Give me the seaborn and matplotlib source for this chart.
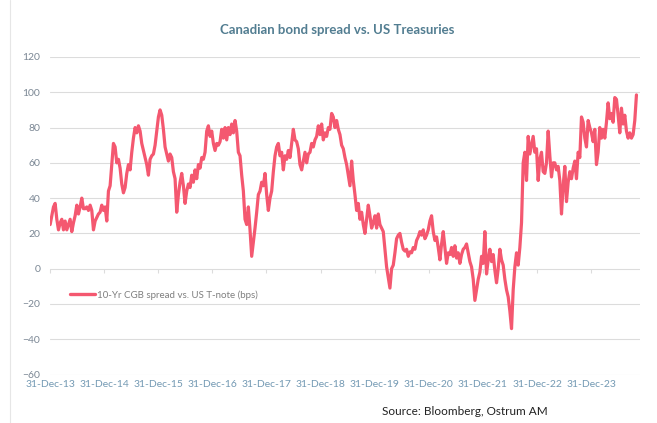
import matplotlib
matplotlib.use("Agg")
import matplotlib.pyplot as plt
import matplotlib.dates as mdates
from matplotlib.lines import Line2D
import numpy as np
import pandas as pd
import seaborn as sns

# ---- data -----------------------------------------------------------------
title = "Canadian bond spread vs. US Treasuries"
series_label = "10-Yr CGB spread vs. US T-note (bps)"
source_note = "Source: Bloomberg, Ostrum AM"

first_obs = "2014-01-01"
last_obs = "2024-11-01"

# 10-year Canada minus US yield spread (bps), sampled roughly every 11 days
spread_2014_2016 = [
    25, 30, 35, 37, 28, 22, 26, 28, 22, 27, 22, 25, 28, 21, 26, 30, 36, 31, 35, 40,
    34, 34, 35, 33, 36, 33, 22, 27, 29, 31, 32, 36, 33, 35, 27, 44, 47, 59, 71, 69,
    60, 62, 57, 48, 43, 46, 54, 59, 56, 66, 74, 80, 77, 81, 78, 71, 67, 63, 59, 53,
    62, 64, 65, 70, 78, 86, 90, 87, 79, 69, 65, 61, 65,
]
spread_2016_2018 = [
    63, 55, 51, 32, 42, 49, 54, 47, 37, 44, 48, 46, 53, 49, 56, 51, 59, 57, 63, 62,
    66, 78, 81, 75, 78, 71, 67, 71, 70, 72, 79, 74, 80, 73, 80, 76, 82, 77, 84, 78,
    66, 64, 53, 44, 28, 25, 35, 22, 7, 15, 23, 32, 42, 44, 49, 47, 54, 42, 33, 40,
    44, 55, 64, 69, 71, 64, 66, 56, 64, 62, 67, 63,
]
spread_2018_2020 = [
    71, 79, 73, 72, 68, 59, 56, 61, 66, 60, 65, 66, 71, 69, 73, 75, 81, 76, 82, 73,
    77, 75, 80, 79, 88, 86, 80, 84, 79, 76, 70, 68, 63, 59, 53, 47, 61, 50, 42, 33,
    37, 28, 32, 25, 20, 28, 36, 30, 23, 26, 30, 23, 31, 25, 23, 21, 11, 1, -5, -11,
    0, 2, 9, 17, 19, 20, 15, 11, 10, 11, 7, 9.5,
]
spread_2020_2022 = [
    9, 12, 11, 16, 18, 21, 19, 22, 17, 19, 22, 27, 30, 21, 16, 18, 12, 5, 14, 21,
    12, 3, 9, 8, 12, 7, 13, 6, 9, 3, 8, 11, 12, 14, 9, 4, 1, -6, -18, -12,
    -6, -2, 7, 3, 21, -3, 5, 11, 4, 8, -1, -8, 0, 11, 5, 2, -6, -12, -16, -24,
    -34, -12, 1, 9, 2, 12, 26, 60, 66,
]
spread_2022_2024 = [
    50, 75, 65, 70, 75, 66, 68, 50, 62, 66, 55, 54, 60, 78, 64, 52, 60, 60, 56, 58,
    50, 31, 47, 58, 38, 49, 55, 51, 57, 61, 51, 66, 63, 86, 83, 74, 69, 84, 80, 77,
    72, 79, 59, 66, 80, 74, 79, 74, 83, 94, 85, 88, 83, 97, 96, 87, 77, 91, 82, 87,
    78, 74, 77, 74, 76, 84, 98.5,
]

tick_dates = ["2013-12-31", "2014-12-31", "2015-12-31", "2016-12-31", "2017-12-31",
              "2018-12-31", "2019-12-31", "2020-12-31", "2021-12-31", "2022-12-31",
              "2023-12-31"]
y_ticks = [-60, -40, -20, 0, 20, 40, 60, 80, 100, 120]

spread = (spread_2014_2016 + spread_2016_2018 + spread_2018_2020
          + spread_2020_2022 + spread_2022_2024)
dates = pd.date_range(first_obs, last_obs, periods=len(spread))
df = pd.DataFrame({"date": dates, "spread": spread})

# ---- style ----------------------------------------------------------------
sns.set_theme(style="white")
plt.rcParams["font.family"] = ["Lato", "DejaVu Sans"]

line_color = "#F45870"
grid_color = "#DCDCDC"

W, H = 657, 423
fig = plt.figure(figsize=(W / 100, H / 100), dpi=100)
fig.patch.set_facecolor("white")
ax = fig.add_axes([50 / W, 1 - 374.5 / H, 590 / W, 317.5 / H])

sns.lineplot(data=df, x="date", y="spread", ax=ax, color=line_color,
             linewidth=2.3, label=series_label)

ax.set_ylim(-60, 120)
ax.set_yticks(y_ticks)
ax.set_xlim(pd.Timestamp("2013-12-31"), pd.Timestamp("2024-11-25"))
tick_ts = pd.to_datetime(tick_dates)
ax.set_xticks(tick_ts)
ax.xaxis.set_major_formatter(mdates.DateFormatter("%d-%b-%y"))

ax.set_xlabel("")
ax.set_ylabel("")
for s in ax.spines.values():
    s.set_visible(False)
ax.grid(axis="y", color=grid_color, linewidth=0.8)
ax.grid(axis="x", visible=False)
ax.tick_params(axis="y", length=0, pad=7, labelsize=7.5, labelcolor="#7B8794")
ax.tick_params(axis="x", length=0, pad=4, labelsize=7.5, labelcolor="#7399B3")

# small year tick marks hanging from the zero line
zero_axis = ax.secondary_xaxis(1 / 3)
zero_axis.set_xticks(mdates.date2num(tick_ts))
zero_axis.tick_params(axis="x", length=3, width=0.8, color=grid_color,
                      labelbottom=False, labeltop=False)
for s in zero_axis.spines.values():
    s.set_visible(False)

leg = ax.legend(loc="center left", bbox_to_anchor=(20 / 590, (374.5 - 295) / 317.5),
                frameon=False, fontsize=7, handlelength=2.6, handletextpad=0.15,
                borderpad=0, borderaxespad=0)
for t in leg.get_texts():
    t.set_color("#7F7F7F")
for h in leg.get_lines():
    h.set_linewidth(2.4)

fig.text(337 / W, 1 - 30 / H, title, ha="center", va="center",
         fontsize=9.5, fontweight="bold", color="#527D91")
fig.text(465 / W, 1 - 411 / H, source_note, ha="center", va="center",
         fontsize=8.5, color="#222222")

# light frame edge on the left of the chart area
fig.add_artist(Line2D([10 / W, 10 / W], [0, 1], transform=fig.transFigure,
                      color="#E6E6E6", linewidth=0.8))

fig.savefig("out.png", dpi=100)
